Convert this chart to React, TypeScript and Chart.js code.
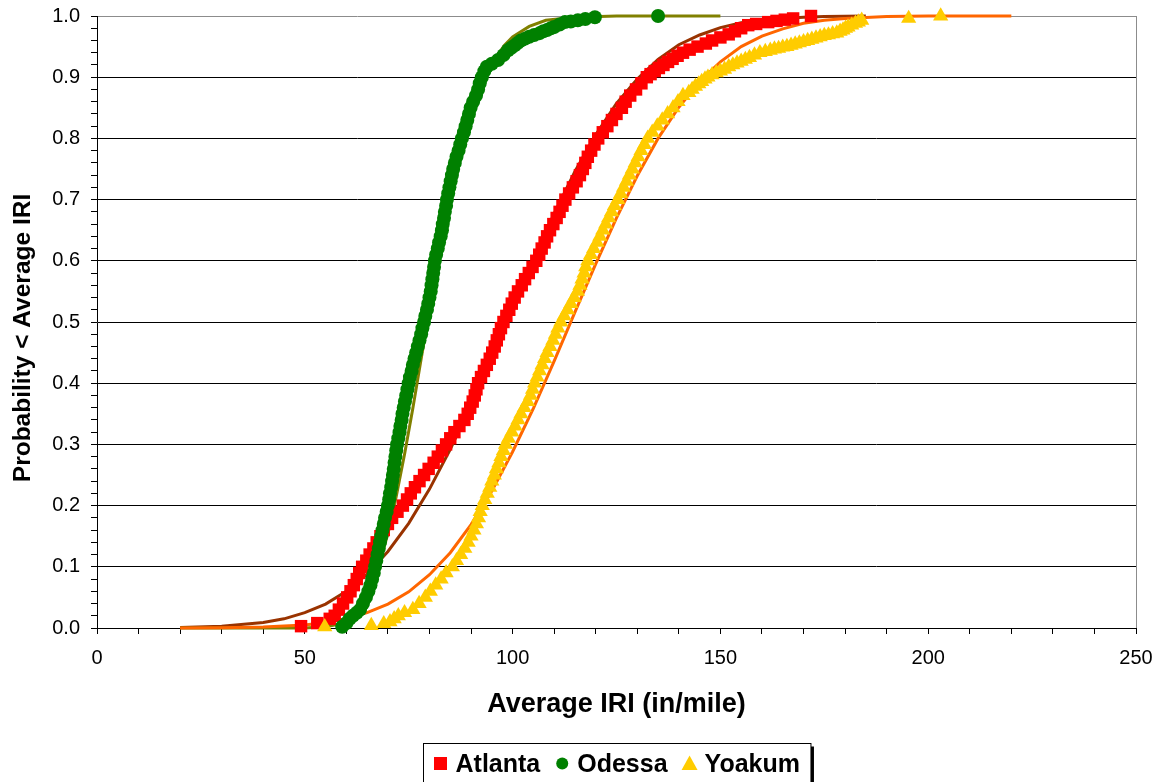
import { useEffect, useRef } from 'react';
import { Chart, registerables } from 'chart.js';

Chart.register(...registerables);

// ---------- text ----------
const X_TITLE = 'Average IRI (in/mile)';
const Y_TITLE = 'Probability < Average IRI';
const SERIES_NAMES = ['Atlanta', 'Odessa', 'Yoakum'];

// ---------- axes ----------
const X_MIN = 0;
const X_MAX = 250;
const X_STEP = 10;
const X_LABEL_EVERY = 50;
const Y_MIN = 0;
const Y_MAX = 1;
const Y_STEP = 0.02;

// ---------- observed cumulative data: [Average IRI, probability] ----------
const atlanta: [number, number][] = [
  [49.1, 0.003], [53, 0.008], [56, 0.015], [57.2, 0.02], [58.2, 0.03], [59.2, 0.04], [60.2, 0.05],
  [61, 0.06], [61.8, 0.07], [62.5, 0.08], [63.1, 0.09], [63.8, 0.1], [64.8, 0.11], [65.6, 0.12],
  [66.5, 0.13], [67.3, 0.14], [68.2, 0.15], [69, 0.16], [70, 0.17], [71, 0.18], [72.3, 0.19],
  [73.6, 0.2], [74.6, 0.21], [75.5, 0.22], [76.5, 0.23], [77.6, 0.24], [78.7, 0.25], [79.8, 0.26],
  [81, 0.27], [82, 0.28], [83, 0.29], [84, 0.3], [85, 0.31], [86, 0.32], [87.2, 0.33], [88.4, 0.34],
  [89.2, 0.35], [89.8, 0.36], [90.4, 0.37], [90.9, 0.38], [91.3, 0.39], [91.7, 0.4], [92.4, 0.41],
  [93.1, 0.42], [93.8, 0.43], [94.5, 0.44], [95.1, 0.45], [95.7, 0.46], [96.2, 0.47], [96.7, 0.48],
  [97.2, 0.49], [97.8, 0.5], [98.5, 0.51], [99.2, 0.52], [99.8, 0.53], [100.5, 0.54], [101.3, 0.55],
  [102.2, 0.56], [103, 0.57], [103.9, 0.58], [104.8, 0.59], [105.7, 0.6], [106.4, 0.61], [107, 0.62],
  [107.7, 0.63], [108.3, 0.64], [109, 0.65], [109.8, 0.66], [110.6, 0.67], [111.3, 0.68], [112, 0.69],
  [112.7, 0.7], [113.6, 0.71], [114.5, 0.72], [115.4, 0.73], [116.2, 0.74], [116.9, 0.75], [117.5, 0.76],
  [118.1, 0.77], [118.9, 0.78], [119.7, 0.79], [120.6, 0.8], [121.7, 0.81], [122.8, 0.82], [123.9, 0.83],
  [125, 0.84], [126.3, 0.85], [127.2, 0.86], [128.3, 0.87], [129.7, 0.88], [131, 0.89], [132.3, 0.9],
  [133.2, 0.905], [134.2, 0.91], [135.2, 0.915], [136.3, 0.92], [137.4, 0.925], [138.5, 0.93],
  [139.7, 0.935], [141, 0.94], [142.6, 0.945], [144.5, 0.95], [146.5, 0.955], [148, 0.96], [150, 0.965],
  [152, 0.97], [153.5, 0.975], [155, 0.98], [156.7, 0.985], [158.6, 0.987], [161.5, 0.99],
  [163.5, 0.992], [165.5, 0.994], [167.5, 0.996], [171.8, 1.0],
];

const odessa: [number, number][] = [
  [59, 0.002], [60, 0.008], [60.8, 0.015], [61.6, 0.02], [62.5, 0.025], [63.3, 0.03], [64, 0.04],
  [64.7, 0.05], [65.3, 0.06], [65.8, 0.07], [66.2, 0.08], [66.6, 0.09], [66.9, 0.1], [67.2, 0.11],
  [67.5, 0.12], [67.8, 0.13], [68.1, 0.14], [68.4, 0.15], [68.7, 0.16], [69, 0.17], [69.3, 0.18],
  [69.7, 0.19], [70, 0.2], [70.3, 0.21], [70.5, 0.22], [70.8, 0.23], [71, 0.24], [71.2, 0.25],
  [71.4, 0.26], [71.6, 0.27], [71.8, 0.28], [72, 0.29], [72.2, 0.3], [72.5, 0.31], [72.8, 0.32],
  [73, 0.33], [73.3, 0.34], [73.5, 0.35], [73.8, 0.36], [74.1, 0.37], [74.4, 0.38], [74.7, 0.39],
  [75, 0.4], [75.3, 0.41], [75.7, 0.42], [76, 0.43], [76.4, 0.44], [76.8, 0.45], [77.2, 0.46],
  [77.6, 0.47], [78, 0.48], [78.3, 0.49], [78.7, 0.5], [79, 0.51], [79.4, 0.52], [79.7, 0.53],
  [80, 0.54], [80.3, 0.55], [80.5, 0.56], [80.7, 0.57], [80.9, 0.58], [81.1, 0.59], [81.3, 0.6],
  [81.6, 0.61], [82, 0.62], [82.3, 0.63], [82.7, 0.64], [83, 0.65], [83.2, 0.66], [83.5, 0.67],
  [83.7, 0.68], [84, 0.69], [84.2, 0.7], [84.5, 0.71], [84.8, 0.72], [85.1, 0.73], [85.4, 0.74],
  [85.7, 0.75], [86.1, 0.76], [86.5, 0.77], [87, 0.78], [87.4, 0.79], [87.8, 0.8], [88.3, 0.81],
  [88.7, 0.82], [89.1, 0.83], [89.5, 0.84], [89.9, 0.85], [90.5, 0.86], [91.2, 0.87], [91.7, 0.88],
  [92.1, 0.89], [92.6, 0.9], [93.2, 0.91], [93.8, 0.917], [95, 0.922], [96.5, 0.928], [97.8, 0.936],
  [98.9, 0.944], [99.7, 0.948], [100.5, 0.952], [101.2, 0.956], [102, 0.96], [103, 0.963],
  [104, 0.966], [105.2, 0.969], [106.5, 0.972], [107.4, 0.975], [108.3, 0.977], [109.2, 0.98],
  [110, 0.982], [111.3, 0.986], [112.6, 0.99], [114, 0.991], [115.7, 0.993], [117.5, 0.995],
  [119.8, 0.998], [135, 1.0],
];

const yoakum: [number, number][] = [
  [54.8, 0.002], [66, 0.004], [69, 0.007], [70.5, 0.01], [71.5, 0.015], [72.5, 0.02], [74, 0.025],
  [76, 0.03], [77.5, 0.04], [79, 0.05], [80.2, 0.06], [81.5, 0.07], [82.8, 0.08], [84, 0.09],
  [85.5, 0.1], [86.5, 0.11], [87.5, 0.12], [88.5, 0.13], [89.3, 0.14], [90, 0.15], [90.7, 0.16],
  [91.3, 0.17], [91.8, 0.18], [92.2, 0.19], [92.7, 0.2], [93.3, 0.21], [93.9, 0.22], [94.5, 0.23],
  [95, 0.24], [95.6, 0.25], [96.1, 0.26], [96.7, 0.27], [97.2, 0.28], [97.8, 0.29], [98.3, 0.3],
  [99, 0.31], [99.8, 0.32], [100.6, 0.33], [101.3, 0.34], [102, 0.35], [102.8, 0.36], [103.6, 0.37],
  [104.3, 0.38], [104.8, 0.39], [105.3, 0.4], [105.9, 0.41], [106.5, 0.42], [107.1, 0.43], [107.7, 0.44],
  [108.3, 0.45], [109, 0.46], [109.7, 0.47], [110.3, 0.48], [110.9, 0.49], [111.6, 0.5], [112.4, 0.51],
  [113.2, 0.52], [114, 0.53], [114.8, 0.54], [115.6, 0.55], [116.2, 0.56], [116.7, 0.57], [117.2, 0.58],
  [117.6, 0.59], [118.1, 0.6], [118.8, 0.61], [119.5, 0.62], [120.3, 0.63], [121, 0.64], [121.7, 0.65],
  [122.4, 0.66], [123.1, 0.67], [123.8, 0.68], [124.5, 0.69], [125.3, 0.7], [126, 0.71], [126.7, 0.72],
  [127.4, 0.73], [128.1, 0.74], [128.8, 0.75], [129.5, 0.76], [130.2, 0.77], [130.9, 0.78], [131.7, 0.79],
  [132.5, 0.8], [133.6, 0.81], [134.8, 0.82], [136, 0.83], [137.3, 0.84], [138.6, 0.85], [139.8, 0.86],
  [141, 0.87], [142.4, 0.875], [143.2, 0.88], [144, 0.885], [144.8, 0.889], [145.5, 0.893],
  [146.3, 0.897], [147, 0.9], [148, 0.904], [149, 0.907], [150, 0.91], [151, 0.913], [152, 0.917],
  [153, 0.92], [154, 0.923], [155, 0.926], [156, 0.929], [157, 0.932], [158.2, 0.936], [159.5, 0.94],
  [160.8, 0.942], [162, 0.944], [163, 0.946], [164, 0.947], [165, 0.949], [166, 0.95], [167, 0.952],
  [168, 0.954], [169, 0.956], [170, 0.958], [171, 0.96], [172, 0.962], [173, 0.964], [174, 0.966],
  [175, 0.968], [176, 0.969], [177, 0.971], [178, 0.972], [178.8, 0.975], [179.5, 0.977], [180.1, 0.98],
  [180.7, 0.982], [181.6, 0.985], [182.5, 0.988], [183.2, 0.99], [184, 0.993], [195.3, 0.996], [203, 1.0],
];

// ---------- fitted distribution curves ----------
const atlantaFit: [number, number][] = [
  [20, 0.001], [30, 0.003], [40, 0.009], [45, 0.015], [50, 0.025], [55, 0.039], [60, 0.06],
  [65, 0.088], [70, 0.125], [75, 0.171], [80, 0.227], [85, 0.292], [90, 0.364], [95, 0.442],
  [100, 0.523], [105, 0.602], [110, 0.677], [115, 0.746], [120, 0.806], [125, 0.857], [130, 0.897],
  [135, 0.929], [140, 0.953], [145, 0.969], [150, 0.981], [155, 0.989], [160, 0.993], [165, 0.996],
  [170, 0.998], [175, 0.999], [185, 1.0],
];

const odessaFit: [number, number][] = [
  [20, 0], [40, 0], [50, 0.0001], [55, 0.002], [58, 0.006], [60, 0.013], [62, 0.024], [64, 0.043],
  [66, 0.069], [68, 0.108], [70, 0.154], [72, 0.215], [74, 0.284], [76, 0.359], [78, 0.44],
  [80, 0.52], [82, 0.599], [84, 0.67], [86, 0.732], [88, 0.788], [90, 0.836], [92, 0.877],
  [94, 0.908], [96, 0.932], [98, 0.952], [100, 0.966], [104, 0.983], [108, 0.993], [115, 0.998],
  [125, 1.0], [150, 1.0],
];

const yoakumFit: [number, number][] = [
  [20, 0], [30, 0.0004], [40, 0.0015], [50, 0.005], [55, 0.009], [60, 0.015], [65, 0.025],
  [70, 0.039], [75, 0.059], [80, 0.087], [85, 0.123], [90, 0.169], [95, 0.224], [100, 0.288],
  [105, 0.359], [110, 0.436], [115, 0.516], [120, 0.595], [125, 0.67], [130, 0.739], [135, 0.8],
  [140, 0.851], [145, 0.893], [150, 0.925], [155, 0.95], [160, 0.967], [165, 0.979], [170, 0.988],
  [175, 0.993], [180, 0.996], [190, 0.999], [200, 1.0], [220, 1.0],
];

// ---------- styling ----------
const FONT = '"Liberation Sans", Arial, Helvetica, sans-serif';
const RED = '#FF0000';
const GREEN = '#008000';
const GOLD = '#FFCC00';
const BROWN = '#993300';
const OLIVE = '#808000';
const ORANGE = '#FF6600';

const toXY = (arr: [number, number][]) => arr.map(([x, y]) => ({ x, y }));

const isMajorY = (v: number) => Math.abs(v * 10 - Math.round(v * 10)) < 1e-6;

const framePlugin = {
  id: 'frame',
  beforeDatasetsDraw(chart: any) {
    const { ctx, chartArea } = chart;
    ctx.save();
    ctx.strokeStyle = '#8c8c8c';
    ctx.lineWidth = 1;
    ctx.beginPath();
    const x = Math.round(chartArea.right) + 0.5;
    ctx.moveTo(x, chartArea.top);
    ctx.lineTo(x, chartArea.bottom);
    ctx.stroke();
    ctx.restore();
  },
};

const yTitlePlugin = {
  id: 'yTitle',
  afterDraw(chart: any) {
    const { ctx } = chart;
    ctx.save();
    ctx.translate(30, 338);
    ctx.rotate(-Math.PI / 2);
    ctx.font = `bold 24.5px ${FONT}`;
    ctx.fillStyle = '#000';
    ctx.textAlign = 'center';
    ctx.textBaseline = 'alphabetic';
    ctx.fillText(Y_TITLE, 0, 0);
    ctx.restore();
  },
};

const boxLegendPlugin = {
  id: 'boxLegend',
  afterDraw(chart: any) {
    const { ctx, chartArea } = chart;
    const items = chart.data.datasets.filter((d: any) => SERIES_NAMES.includes(d.label));
    ctx.save();
    ctx.font = `bold 25px ${FONT}`;
    const markerW = 14;
    const gapMT = 8;
    const gapItem = 15;
    const padL = 10;
    const padR = 11;
    const widths = items.map((d: any) => ctx.measureText(d.label).width);
    const total =
      padL + widths.reduce((s: number, w: number) => s + markerW + gapMT + w, 0) + gapItem * (items.length - 1) + padR;
    const cx = (chartArea.left + chartArea.right) / 2;
    const left = Math.round(cx - total / 2) + 0.5;
    const top = 743.5;
    const h = 42;
    ctx.fillStyle = '#000';
    ctx.fillRect(left + 3, top + 3, total, h);
    ctx.fillStyle = '#fff';
    ctx.fillRect(left, top, total, h);
    ctx.strokeStyle = '#000';
    ctx.lineWidth = 1;
    ctx.strokeRect(left, top, total, h);
    let x = left + padL;
    const cy = 763.5;
    items.forEach((d: any, i: number) => {
      const mx = x + markerW / 2;
      ctx.fillStyle = d.pointBackgroundColor;
      ctx.beginPath();
      if (d.pointStyle === 'rect') {
        ctx.rect(mx - 6.5, cy - 6.5, 13, 13);
      } else if (d.pointStyle === 'circle') {
        ctx.arc(mx, cy, 6, 0, Math.PI * 2);
      } else {
        ctx.moveTo(mx, cy - 8);
        ctx.lineTo(mx + 8, cy + 6.5);
        ctx.lineTo(mx - 8, cy + 6.5);
        ctx.closePath();
      }
      ctx.fill();
      ctx.fillStyle = '#000';
      ctx.textAlign = 'left';
      ctx.textBaseline = 'alphabetic';
      ctx.fillText(d.label, x + markerW + gapMT, 772);
      x += markerW + gapMT + widths[i] + gapItem;
    });
    ctx.restore();
  },
};

export default function App() {
  const canvasRef = useRef<HTMLCanvasElement | null>(null);

  useEffect(() => {
    const canvas = canvasRef.current;
    if (!canvas) return;

    const markerSet = (label: string, data: [number, number][], color: string, style: string, radius: number, order: number) => ({
      label,
      data: toXY(data),
      showLine: false,
      pointStyle: style,
      pointRadius: radius,
      pointHoverRadius: radius,
      pointBackgroundColor: color,
      pointBorderColor: color,
      pointBorderWidth: 0,
      backgroundColor: color,
      borderColor: color,
      clip: false,
      order,
    });

    const fitSet = (label: string, data: [number, number][], color: string, order: number) => ({
      label,
      data: toXY(data),
      showLine: true,
      fill: false,
      borderColor: color,
      backgroundColor: color,
      borderWidth: 3,
      pointRadius: 0,
      pointHoverRadius: 0,
      tension: 0,
      clip: false,
      order,
    });

    const chart = new Chart(canvas, {
      type: 'scatter',
      data: {
        datasets: [
          markerSet(SERIES_NAMES[0], atlanta, RED, 'rect', 8.8, 3),
          markerSet(SERIES_NAMES[1], odessa, GREEN, 'circle', 7, 2),
          markerSet(SERIES_NAMES[2], yoakum, GOLD, 'triangle', 8.8, 1),
          fitSet(SERIES_NAMES[0] + ' fit', atlantaFit, BROWN, 6),
          fitSet(SERIES_NAMES[1] + ' fit', odessaFit, OLIVE, 5),
          fitSet(SERIES_NAMES[2] + ' fit', yoakumFit, ORANGE, 4),
        ] as any,
      },
      options: {
        responsive: false,
        animation: false,
        events: [],
        layout: { padding: { left: 0, top: 16, right: 26, bottom: 61 } },
        plugins: {
          legend: { display: false },
          tooltip: { enabled: false },
          title: { display: false },
        },
        scales: {
          x: {
            type: 'linear',
            min: X_MIN,
            max: X_MAX,
            afterFit: (scale: any) => {
              scale.height = 93;
              scale.paddingLeft = 0;
              scale.paddingRight = 0;
            },
            ticks: {
              stepSize: X_STEP,
              autoSkip: false,
              maxRotation: 0,
              padding: 12,
              color: '#000',
              font: { family: FONT, size: 20 },
              callback: (v: any) => (Number(v) % X_LABEL_EVERY === 0 ? String(v) : ''),
            },
            grid: {
              drawOnChartArea: false,
              drawTicks: true,
              tickLength: 6,
              tickColor: '#000',
              tickWidth: 1,
            },
            border: { display: true, color: '#000', width: 1 },
            title: {
              display: true,
              text: X_TITLE,
              color: '#000',
              font: { family: FONT, size: 27, weight: 'bold' },
              padding: { top: 0, bottom: 0 },
            },
          },
          y: {
            type: 'linear',
            min: Y_MIN,
            max: Y_MAX,
            afterFit: (scale: any) => {
              scale.width = 97;
              scale.paddingTop = 0;
              scale.paddingBottom = 0;
            },
            ticks: {
              stepSize: Y_STEP,
              autoSkip: false,
              padding: 11,
              color: '#000',
              font: { family: FONT, size: 20 },
              callback: (v: any) => (isMajorY(Number(v)) ? Number(v).toFixed(1) : ''),
            },
            grid: {
              drawOnChartArea: true,
              drawTicks: true,
              tickLength: 6,
              tickColor: '#000',
              tickWidth: 1,
              lineWidth: 1,
              color: (c: any) => {
                const v = c.tick ? c.tick.value : NaN;
                if (!isFinite(v) || !isMajorY(v)) return 'rgba(0,0,0,0)';
                if (Math.round(v * 10) === 10) return '#8c8c8c';
                return '#000';
              },
            },
            border: { display: true, color: '#000', width: 1 },
            title: { display: false },
          },
        },
      } as any,
      plugins: [framePlugin, yTitlePlugin, boxLegendPlugin],
    });

    return () => {
      chart.destroy();
    };
  }, []);

  return (
    <div style={{ position: 'absolute', left: 0, top: 0, width: 1162, height: 782, background: '#fff' }}>
      <canvas ref={canvasRef} width={1162} height={782} style={{ display: 'block' }} />
    </div>
  );
}
